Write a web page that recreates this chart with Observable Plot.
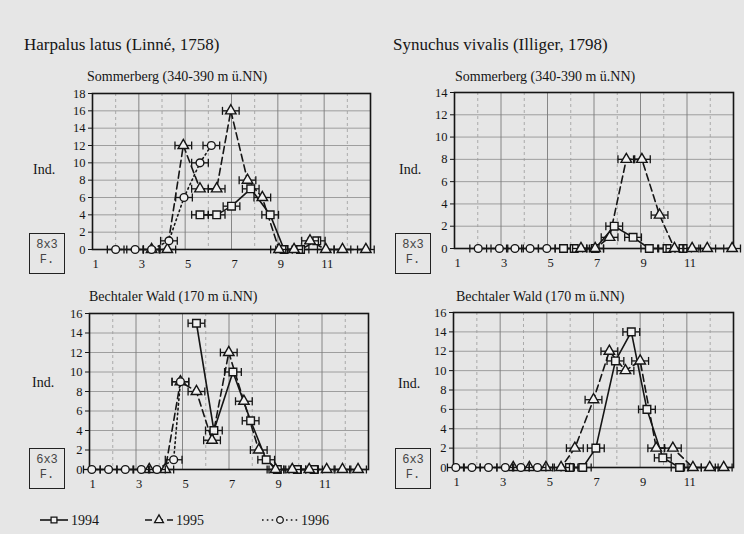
<!DOCTYPE html>
<html><head><meta charset="utf-8">
<script src="https://cdn.jsdelivr.net/npm/d3@7"></script>
<script src="https://cdn.jsdelivr.net/npm/@observablehq/plot@0.6"></script>
<style>
html,body{margin:0;padding:0;background:#e6e6e6;}
#root{position:relative;width:744px;height:534px;overflow:hidden;background:#e6e6e6;font-family:"Liberation Serif","Times New Roman",serif;color:#151515;}
#root svg text{font-family:"Liberation Serif","Times New Roman",serif !important;}
.t{position:absolute;white-space:nowrap;line-height:1;font-family:"Liberation Serif","Times New Roman",serif;}
.title{font-size:17px;}
.sub{font-size:14px;}
.ind{font-size:14px;}
.box{position:absolute;border:1.4px solid #222;width:36px;height:41px;box-sizing:border-box;font-family:"Liberation Mono","DejaVu Sans Mono",monospace;font-size:12px;color:#444;text-align:center;line-height:15px;padding-top:4px;}
</style>
</head><body>
<div id="root"></div>
<script>
// ---------- DATA (month, individuals) ----------
const xTicks = [1, 3, 5, 7, 9, 11];
const yTicksHLSom = [0, 2, 4, 6, 8, 10, 12, 14, 16, 18];
const yTicksSVSom = [0, 2, 4, 6, 8, 10, 12, 14];
const yTicksBech  = [0, 2, 4, 6, 8, 10, 12, 14, 16];

// Harpalus latus – Sommerberg
const HL_SOM_1994 = [[5.64,4],[6.36,4],[7.0,5],[7.83,7],[8.67,4],[9.27,0],[9.98,0],[10.68,1]];
const HL_SOM_1995 = [[3.55,0],[4.23,0],[4.92,12],[5.64,7],[6.36,7],[6.97,16],[7.69,8],[8.33,6],[9.05,0],[9.7,0],[10.39,1],[11.07,0],[11.79,0],[12.8,0]];
const HL_SOM_1996 = [[2.0,0],[2.84,0],[3.55,0],[4.3,1],[4.95,6],[5.64,10],[6.13,12]];
// Synuchus vivalis – Sommerberg
const SV_SOM_1994 = [[5.69,0],[6.15,0],[7.05,0],[7.87,2],[8.68,1],[9.38,0],[10.14,0],[10.83,0]];
const SV_SOM_1995 = [[6.44,0],[7.05,0],[7.67,1],[8.39,8],[9.06,8],[9.82,3],[10.46,0],[11.22,0],[11.87,0],[12.94,0]];
const SV_SOM_1996 = [[2.02,0],[2.93,0],[3.6,0],[4.25,0],[4.97,0]];
// Harpalus latus – Bechtaler Wald
const HL_BW_1994 = [[5.6,15],[6.35,4],[7.17,10],[7.93,5],[8.6,1],[9.08,0],[9.94,0],[10.66,0]];
const HL_BW_1995 = [[3.57,0],[4.26,0],[4.91,9],[5.6,8],[6.27,3],[6.99,12],[7.64,7],[8.28,2],[9.0,0],[9.72,0],[10.45,0],[11.2,0],[11.88,0],[12.55,0]];
const HL_BW_1996 = [[1.1,0],[1.82,0],[2.54,0],[3.23,0],[3.9,0],[4.62,1],[4.91,9]];
// Synuchus vivalis – Bechtaler Wald
const SV_BW_1994 = [[5.97,0],[6.54,0],[7.1,2],[7.94,11],[8.62,14],[9.29,6],[9.97,1],[10.69,0]];
const SV_BW_1995 = [[3.56,0],[4.25,0],[4.96,0],[5.61,0],[6.2,2],[7.0,7],[7.68,12],[8.37,10],[9.0,11],[9.69,2],[10.4,2],[11.26,0],[11.98,0],[12.58,0]];
const SV_BW_1996 = [[1.1,0],[1.79,0],[2.5,0],[3.22,0],[3.89,0],[4.6,0]];

const years = ["1994", "1995", "1996"];
const titles = ["Harpalus latus (Linné, 1758)", "Synuchus vivalis (Illiger, 1798)"];
const sites = ["Sommerberg (340-390 m ü.NN)", "Bechtaler Wald (170 m ü.NN)"];
const traps = ["8x3", "6x3"];

// ---------- STYLE ----------
const INK = "#151515";
const SERIF = "Liberation Serif, Times New Roman, serif";
const HW = 0.36; // half width of sampling-interval bars (months)
const styles = {
  "1994": {symbol: "square", dash: null, r: 4.3},
  "1995": {symbol: "triangle", dash: "7,4", r: 3.9},
  "1996": {symbol: "circle", dash: "1.6,3.2", r: 3.9}
};
const cap = {draw(ctx) { ctx.moveTo(0, -4); ctx.lineTo(0, 4); }};

const root = document.getElementById("root");
function addText(cls, txt, left, top) {
  const d = document.createElement("div");
  d.className = "t " + cls; d.textContent = txt;
  d.style.left = left + "px"; d.style.top = top + "px";
  root.appendChild(d); return d;
}
function addBox(txt, left, top) {
  const d = document.createElement("div");
  d.className = "box"; d.innerHTML = txt + "<br>F.";
  d.style.left = left + "px"; d.style.top = top + "px";
  root.appendChild(d);
}

function panel(seriesList, yTicks, L, T, R, B) {
  const mL = 36, mR = 10, mT = 8, mB = 26;
  const ymax = yTicks[yTicks.length - 1];
  const marks = [
    Plot.ruleY(yTicks.slice(1), {stroke: "#8c8c8c", strokeWidth: 0.8}),
    Plot.ruleX([2, 4, 6, 8, 10, 12], {stroke: "#9a9a9a", strokeWidth: 0.8, strokeDasharray: "3,3"}),
    Plot.ruleX([3, 5, 7, 9, 11], {stroke: "#7a7a7a", strokeWidth: 0.9}),
    Plot.frame({stroke: INK, strokeWidth: 1.6}),
    Plot.axisY({ticks: yTicks, tickSize: 4, tickPadding: 3, label: null, fontSize: 12.5, fontFamily: SERIF, fill: INK}),
    Plot.axisX({ticks: xTicks, tickSize: 0, tickPadding: 10, dx: 3, label: null, fontSize: 12.5, fontFamily: SERIF, fill: INK})
  ];
  seriesList.forEach((data, i) => {
    const st = styles[years[i]];
    marks.push(Plot.line(data, {x: d => d[0], y: d => d[1], stroke: INK, strokeWidth: 1.6, strokeDasharray: st.dash}));
  });
  seriesList.forEach((data, i) => {
    const st = styles[years[i]];
    marks.push(Plot.link(data, {x1: d => d[0] - HW, x2: d => d[0] + HW, y1: d => d[1], y2: d => d[1], stroke: INK, strokeWidth: 1.3}));
    marks.push(Plot.dot(data, {x: d => d[0] - HW, y: d => d[1], symbol: cap, fill: "none", stroke: INK, strokeWidth: 1.3}));
    marks.push(Plot.dot(data, {x: d => d[0] + HW, y: d => d[1], symbol: cap, fill: "none", stroke: INK, strokeWidth: 1.3}));
    marks.push(Plot.dot(data, {x: d => d[0], y: d => d[1], symbol: st.symbol, r: st.r, fill: "#f0f0f0", stroke: INK, strokeWidth: 1.4}));
  });
  const chart = Plot.plot({
    width: R - L + mL + mR, height: B - T + mT + mB,
    marginLeft: mL, marginRight: mR, marginTop: mT, marginBottom: mB,
    style: {background: "transparent", fontFamily: SERIF, fontSize: "12.5px", color: INK, overflow: "visible"},
    x: {domain: [1, 13]},
    y: {domain: [0, ymax]},
    marks
  });
  chart.style.position = "absolute";
  chart.style.left = (L - mL) + "px";
  chart.style.top = (T - mT) + "px";
  chart.style.maxWidth = "none";
  root.appendChild(chart);
}

// titles
addText("title", titles[0], 24, 36);
addText("title", titles[1], 393, 36);
addText("sub", sites[0], 87, 70);
addText("sub", sites[0], 455, 70);
addText("sub", sites[1], 89, 290);
addText("sub", sites[1], 456, 290);
addText("ind", "Ind.", 33, 163);
addText("ind", "Ind.", 399, 163);
addText("ind", "Ind.", 32, 376);
addText("ind", "Ind.", 398, 377);
addBox(traps[0], 29, 233);
addBox(traps[0], 395, 233);
addBox(traps[1], 29, 448);
addBox(traps[1], 395, 448);

panel([HL_SOM_1994, HL_SOM_1995, HL_SOM_1996], yTicksHLSom, 92, 93, 370, 249);
panel([SV_SOM_1994, SV_SOM_1995, SV_SOM_1996], yTicksSVSom, 454, 92, 733, 248);
panel([HL_BW_1994, HL_BW_1995, HL_BW_1996], yTicksBech, 89, 313, 368, 469);
panel([SV_BW_1994, SV_BW_1995, SV_BW_1996], yTicksBech, 453, 312, 733, 467);

// legend
const lg = d3.select(root).append("svg")
  .attr("width", 744).attr("height", 30)
  .style("position", "absolute").style("left", "0px").style("top", "506px");
const ly = 14;
const legendItems = [
  {year: years[0], x0: 40, x1: 68},
  {year: years[1], x0: 145, x1: 173},
  {year: years[2], x0: 262, x1: 298}
];
legendItems.forEach(it => {
  const st = styles[it.year];
  lg.append("line").attr("x1", it.x0).attr("x2", it.x1).attr("y1", ly).attr("y2", ly)
    .attr("stroke", INK).attr("stroke-width", 1.6).attr("stroke-dasharray", st.dash);
  lg.append("path").attr("d", d3.symbol(st.symbol === "square" ? d3.symbolSquare : st.symbol === "triangle" ? d3.symbolTriangle : d3.symbolCircle, Math.PI * 3.3 * 3.3)())
    .attr("transform", `translate(${(it.x0 + it.x1) / 2},${ly})`)
    .attr("fill", "#f0f0f0").attr("stroke", INK).attr("stroke-width", 1.3);
  lg.append("text").attr("x", it.x1 + 3).attr("y", ly + 5).text(it.year)
    .attr("font-size", 14).attr("fill", INK);
});
</script>
</body></html>
